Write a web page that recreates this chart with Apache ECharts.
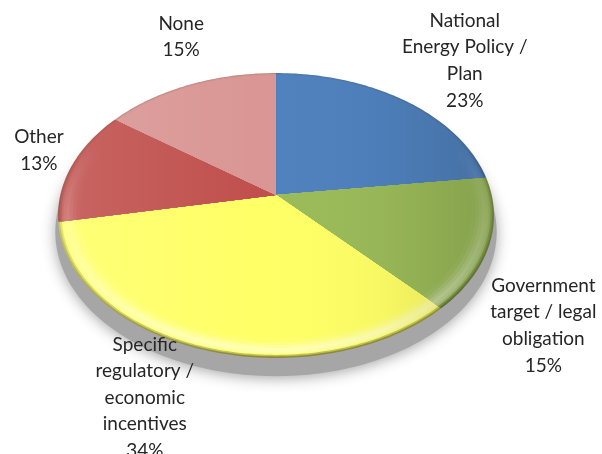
<!DOCTYPE html>
<html>
<head>
<meta charset="utf-8">
<script src="https://cdn.jsdelivr.net/npm/echarts@6/dist/echarts.min.js"></script>
<style>
  html, body { margin: 0; padding: 0; background: #ffffff; }
  #chart { width: 602px; height: 454px; }
</style>
</head>
<body>
<div id="chart"></div>
<script>
// Policy drivers, share of respondents (%)
const categories = [
  'National\nEnergy Policy /\nPlan',
  'Government\ntarget / legal\nobligation',
  'Specific\nregulatory /\neconomic\nincentives',
  'Other',
  'None'
];
const shares = [23, 15, 34, 13, 15];

// Styling
const sliceColors = ['#4F81BD', '#9BBB59', '#FFFF66', '#C0504D', '#D99694'];
const labelShift = [[60, -40], [54, 81], [-54, 49], [-33, -15], [-8, -48]];
const tilt = { a: 139.5, b: 215.7, k: 0.1438 };   // perspective of the tilted disc
const textFont = '19px Lato';

// cumulative start / end of every slice on the angle axis
const total = shares.reduce((s, v) => s + v, 0);
const bounds = [];
let acc = 0;
shares.forEach(v => { bounds.push([acc, acc + v]); acc += v; });

function hexRgb(h) {
  const n = parseInt(h.slice(1), 16);
  return [(n >> 16) & 255, (n >> 8) & 255, n & 255];
}
function mix(h, target, amt) {
  const c = hexRgb(h);
  const t = target === 'white' ? [255, 255, 255] : [40, 40, 20];
  const m = c.map((v, i) => Math.round(v + (t[i] - v) * amt));
  return 'rgb(' + m.join(',') + ')';
}

// polar point -> point on the tilted (perspective) disc
function toScreen(sys, p) {
  const u = (p[0] - sys.cx) / sys.r;
  const v = (sys.cy - p[1]) / sys.r;
  const d = 1 + tilt.k * v;
  return [sys.cx + tilt.b * u / d, sys.cy - tilt.a * v / d];
}
function sectorPoints(api, sys, r, t0, t1) {
  const n = Math.max(8, Math.ceil((t1 - t0) * 3));
  const pts = [toScreen(sys, api.coord([0, t0]))];
  for (let i = 0; i <= n; i++) {
    pts.push(toScreen(sys, api.coord([r, t0 + (t1 - t0) * i / n])));
  }
  return pts;
}
function discPoints(api, sys, r) {
  const pts = [];
  for (let i = 0; i < 200; i++) pts.push(toScreen(sys, api.coord([r, total * i / 200])));
  return pts;
}

// rim bevel: radius, effect at the far side, effect at the near side
const bevel = [
  { r: 1.000, top: ['dark', 0.15], bot: ['dark', 0.55] },
  { r: 0.992, top: ['dark', 0.05], bot: ['dark', 0.30] },
  { r: 0.984, top: ['white', 0.00], bot: ['white', 0.20] },
  { r: 0.975, top: ['white', 0.00], bot: ['white', 0.45] },
  { r: 0.962, top: ['white', 0.00], bot: ['white', 0.55] },
  { r: 0.948, top: ['white', 0.00], bot: ['white', 0.40] },
  { r: 0.934, top: ['white', 0.00], bot: ['white', 0.22] },
  { r: 0.918, top: ['white', 0.00], bot: ['white', 0.08] },
  { r: 0.900, top: ['white', 0.00], bot: ['white', 0.00] }
];

const chart = echarts.init(document.getElementById('chart'), null, { renderer: 'canvas' });

chart.setOption({
  animation: false,
  backgroundColor: '#ffffff',
  polar: { center: [276, 195], radius: 100 },
  angleAxis: { type: 'value', min: 0, max: total, startAngle: 90, clockwise: true, show: false },
  radiusAxis: { type: 'value', min: 0, max: 1, show: false },
  series: [
    {
      // soft drop shadow under the disc
      type: 'custom', coordinateSystem: 'polar', silent: true, z: 1,
      data: [[0, total]],
      renderItem: function (params, api) {
        const sys = params.coordSys;
        return {
          type: 'polygon', y: 16,
          shape: { points: discPoints(api, sys, 1.012) },
          style: { fill: '#A6A6A6', shadowBlur: 14, shadowColor: 'rgba(160,160,160,0.95)', shadowOffsetY: 2 }
        };
      }
    },
    {
      // slices
      type: 'custom', coordinateSystem: 'polar', silent: true, z: 2,
      data: bounds,
      renderItem: function (params, api) {
        const sys = params.coordSys;
        const t0 = api.value(0), t1 = api.value(1);
        const base = sliceColors[params.dataIndex];
        const centre = toScreen(sys, api.coord([0, 0]));
        const bottom = toScreen(sys, api.coord([1, total / 2]));
        const g0 = centre[1] - 0.3 * (bottom[1] - centre[1]);
        const children = bevel.map(layer => {
          const c0 = layer.top[1] === 0 ? base : mix(base, layer.top[0], layer.top[1]);
          const c1 = layer.bot[1] === 0 ? base : mix(base, layer.bot[0], layer.bot[1]);
          return {
            type: 'polygon',
            shape: { points: sectorPoints(api, sys, layer.r, t0, t1) },
            style: {
              fill: new echarts.graphic.LinearGradient(0, g0, 0, bottom[1], [
                { offset: 0, color: c0 }, { offset: 1, color: c1 }
              ], true)
            }
          };
        });
        return { type: 'group', children: children };
      }
    },
    {
      // side lighting across the disc
      type: 'custom', coordinateSystem: 'polar', silent: true, z: 3,
      data: [[0, total]],
      renderItem: function (params, api) {
        const sys = params.coordSys;
        const pts = discPoints(api, sys, 1);
        const xs = pts.map(p => p[0]);
        return {
          type: 'polygon',
          shape: { points: pts },
          style: {
            fill: new echarts.graphic.LinearGradient(Math.min(...xs), 0, Math.max(...xs), 0, [
              { offset: 0, color: 'rgba(255,255,255,0.12)' },
              { offset: 0.45, color: 'rgba(255,255,255,0)' },
              { offset: 0.75, color: 'rgba(0,0,0,0.03)' },
              { offset: 1, color: 'rgba(0,0,0,0.14)' }
            ], true)
          }
        };
      }
    },
    {
      // category and share labels
      type: 'custom', coordinateSystem: 'polar', silent: true, z: 4,
      data: bounds,
      renderItem: function (params, api) {
        const sys = params.coordSys;
        const i = params.dataIndex;
        const mid = (api.value(0) + api.value(1)) / 2;
        const p = toScreen(sys, api.coord([1, mid]));
        return {
          type: 'text',
          x: p[0] + labelShift[i][0],
          y: p[1] + labelShift[i][1],
          style: {
            text: categories[i] + '\n' + shares[i] + '%',
            font: textFont,
            fill: '#262626',
            align: 'center',
            verticalAlign: 'middle',
            lineHeight: 26.6
          }
        };
      }
    }
  ]
});
</script>
</body>
</html>
